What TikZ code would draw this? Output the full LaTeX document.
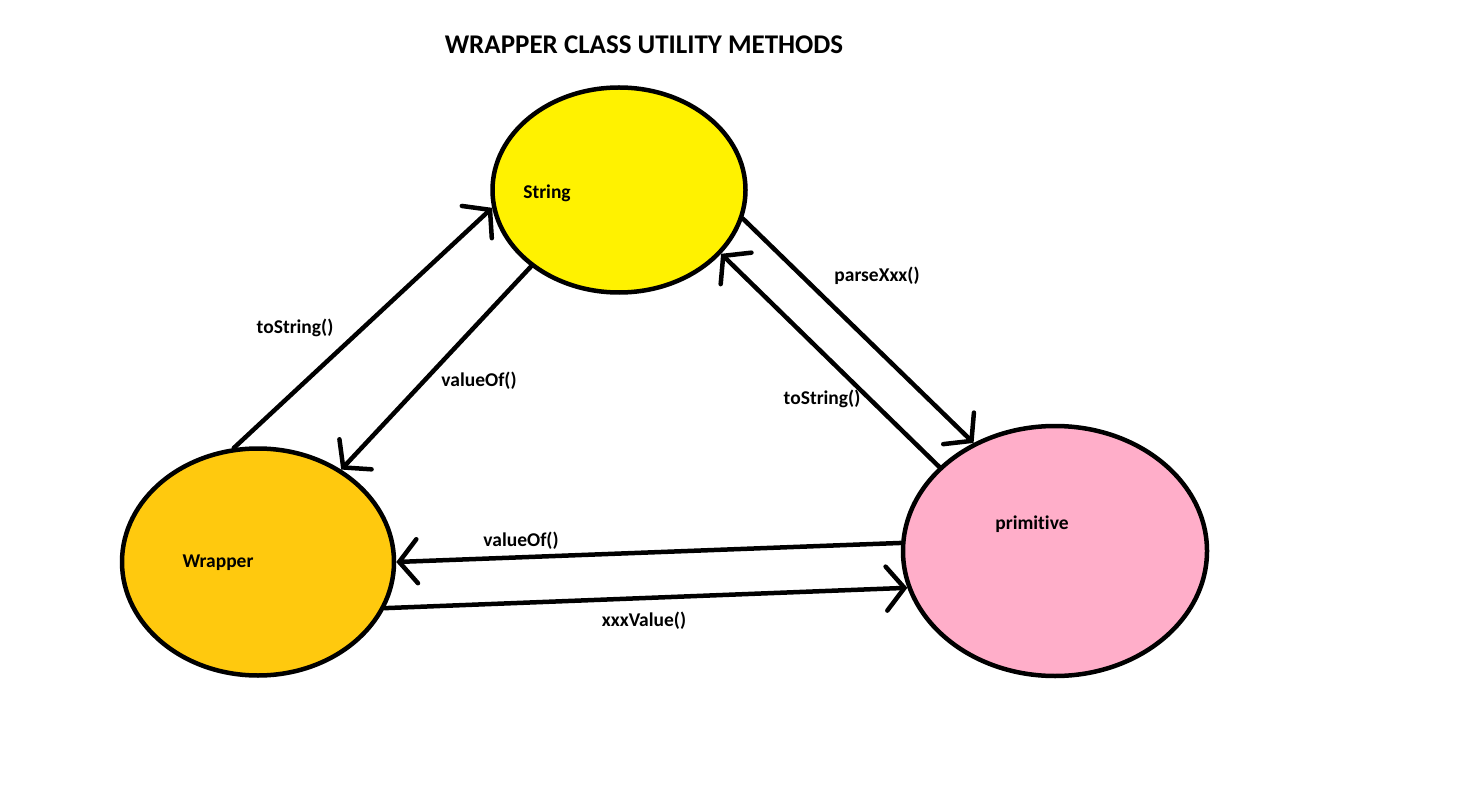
\documentclass[tikz,border=0pt]{standalone}
\usepackage{fontspec}
\setmainfont{Carlito}[Ligatures=NoCommon]
\usetikzlibrary{arrows.meta,shapes.geometric}
\definecolor{syellow}{HTML}{FFF200}
\definecolor{wgold}{HTML}{FFC90E}
\definecolor{ppink}{HTML}{FFAEC9}
\tikzset{
  blob/.style={ellipse, draw=black, line width=4.5pt, inner sep=0pt},
  conn/.style={line width=4.5pt, line cap=round, -{Straight Barb[length=18pt,width=44pt,line cap=round]}},
  lbl/.style={font=\fontsize{19.5}{22}\selectfont\bfseries, text=black, inner sep=0pt},
  ttl/.style={font=\fontsize{27}{31}\selectfont\bfseries, text=black, inner sep=0pt}
}
\begin{document}
\begin{tikzpicture}[x=1pt,y=-1pt]
\useasboundingbox[fill=white] (0,0) rectangle (1480,810);
\node[ttl] (title) at (644,45) {WRAPPER CLASS UTILITY METHODS};
\node[blob, fill=syellow, minimum width=253pt, minimum height=205pt] (S) at (619,190) {};
\node[blob, fill=wgold, minimum width=272pt, minimum height=227pt] (W) at (258,562) {};
\node[blob, fill=ppink, minimum width=304pt, minimum height=250pt] (P) at (1055,551) {};
\node[lbl] (St) at (547,193) {String};
\node[lbl] (Wt) at (218,563) {Wrapper};
\node[lbl] (Pt) at (1032,524) {primitive};
\draw[conn] (W.102.6) -- (S.188);
\draw[conn] (S.221.9) -- (W.48.6);
\draw[conn] (S.347.8) -- (P.127.4);
\draw[conn] (P.144.6) -- (S.328.4);
\draw[conn] (P.177.8) -- (W.0.8);
\draw[conn] (W.340.8) -- (P.194.1);
\node[lbl] (l1) at (295,328) {toString()};
\node[lbl] (l2) at (479,381) {valueOf()};
\node[lbl] (l3) at (877,276) {parseXxx()};
\node[lbl] (l4) at (822,399) {toString()};
\node[lbl] (l5) at (521,541) {valueOf()};
\node[lbl] (l6) at (644,621) {xxxValue()};
\end{tikzpicture}
\end{document}
